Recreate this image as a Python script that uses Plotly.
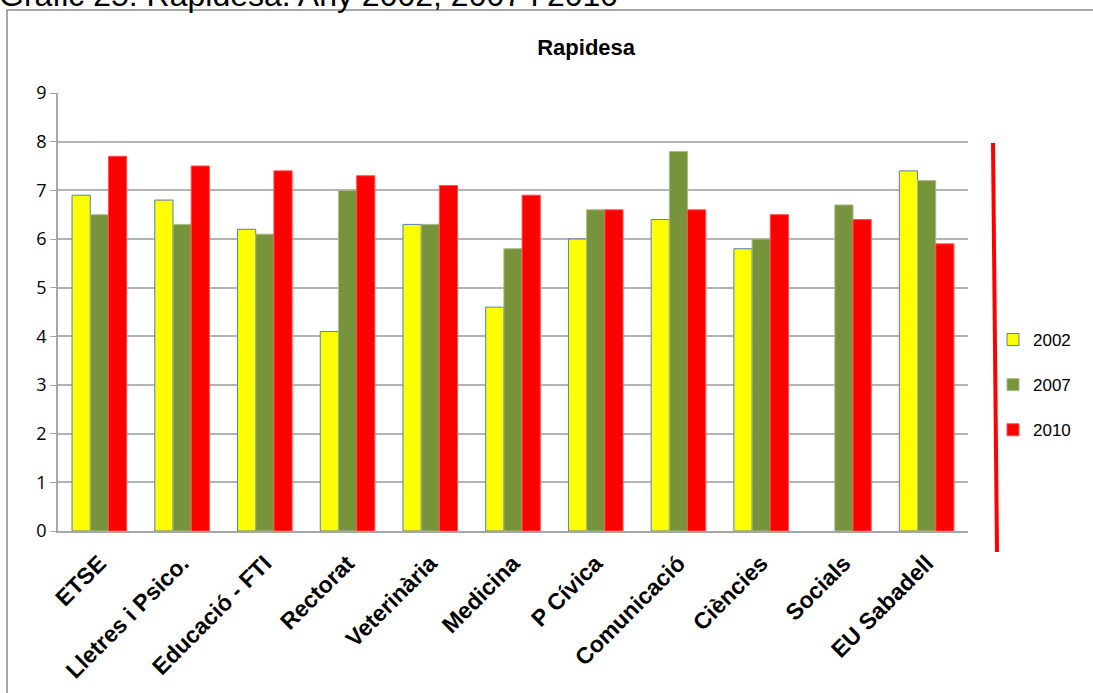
import plotly.graph_objects as go

facultats = ["ETSE", "Lletres i Psico.", "Educació - FTI", "Rectorat", "Veterinària",
             "Medicina", "P Cívica", "Comunicació", "Ciències", "Socials", "EU Sabadell"]
v2002 = [6.9, 6.8, 6.2, 4.1, 6.3, 4.6, 6.0, 6.4, 5.8, None, 7.4]
v2007 = [6.5, 6.3, 6.1, 7.0, 6.3, 5.8, 6.6, 7.8, 6.0, 6.7, 7.2]
v2010 = [7.7, 7.5, 7.4, 7.3, 7.1, 6.9, 6.6, 6.6, 6.5, 6.4, 5.9]

W, H = 1093, 693
L, R, T, B = 58, 125, 93, 162
pw, ph = W - L - R, H - T - B

def px(x):
    return (x - L) / pw

def py(y):
    return (H - B - y) / ph

fig = go.Figure()
fig.add_trace(go.Bar(name="2002", x=facultats, y=v2002, legendgroup="a",
                     marker=dict(color="#FFFF00", line=dict(color="#4F81BD", width=1))))
fig.add_trace(go.Bar(name="2007", x=facultats, y=v2007, legendgroup="b",
                     marker=dict(color="#77933C", line=dict(color="#A9BE86", width=1))))
fig.add_trace(go.Bar(name="2010", x=facultats, y=v2010, legendgroup="c",
                     marker=dict(color="#FF0000", line=dict(color="#FF5050", width=1))))

fig.update_layout(
    width=W, height=H,
    margin=dict(l=L, r=R, t=T, b=B),
    paper_bgcolor="white", plot_bgcolor="white",
    font=dict(family="Liberation Sans, Arial", color="black"),
    barmode="group", bargap=0.34, bargroupgap=0,
    title=dict(text="<b>Rapidesa</b>", x=px(546), xanchor="center",
               y=1 - 47 / H, yanchor="middle", font=dict(size=22)),
    legend=dict(x=px(993), y=py(385), xanchor="left", yanchor="middle",
                traceorder="grouped", tracegroupgap=20, font=dict(size=17),
                bgcolor="rgba(0,0,0,0)"),
    xaxis=dict(tickangle=-45, ticklabelstandoff=8, automargin=False,
               tickfont=dict(size=23, family="Liberation Sans, Arial", weight="bold"),
               showline=True, linecolor="#A6A6A6", linewidth=1.5, ticks=""),
    yaxis=dict(range=[0, 9], dtick=1, showgrid=True, gridcolor="#B3B3B3", gridwidth=1.5,
               showline=True, linecolor="#A6A6A6", linewidth=1.5, automargin=False,
               ticks="outside", ticklen=6, tickcolor="#A6A6A6",
               tickfont=dict(size=18, family="Open Sans"), zeroline=False),
)

# marc gris de la figura
fig.add_shape(type="rect", xref="paper", yref="paper",
              x0=px(7), y0=py(720), x1=px(1110), y1=py(10),
              line=dict(color="#8C8C8C", width=1.5), layer="below")
# línia vermella vertical
fig.add_shape(type="line", xref="paper", yref="paper",
              x0=px(993), y0=py(143), x1=px(997), y1=py(552),
              line=dict(color="#FF0000", width=4))
# capçalera tallada a dalt
fig.add_annotation(text="Gràfic 25: Rapidesa. Any 2002, 2007 i 2010",
                   xref="paper", yref="paper", x=px(-3), y=py(15),
                   xanchor="left", yanchor="bottom", showarrow=False,
                   font=dict(size=32, family="Liberation Sans, Arial"))

# sense marge del body perquè la figura comenci a (0, 0)
fig.write_html("out.html", config={"displayModeBar": False},
               post_script="document.body.style.margin='0';")
